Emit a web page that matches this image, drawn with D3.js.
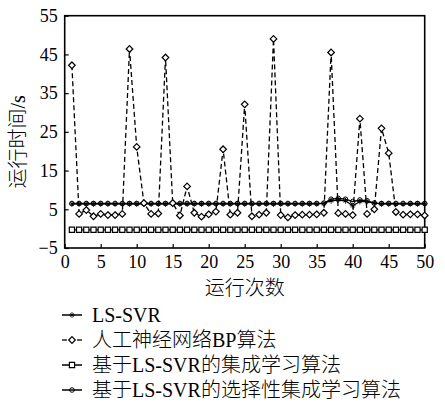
<!DOCTYPE html>
<html>
<head>
<meta charset="utf-8">
<script src="https://cdn.jsdelivr.net/npm/d3@7/dist/d3.min.js"></script>
<style>
  html, body { margin: 0; padding: 0; background: #fff; }
  svg text { font-family: "Liberation Serif", "Noto Sans CJK SC", serif; fill: #000; }
  svg text.cjk { font-weight: 300; }
</style>
</head>
<body>
<div id="chart"></div>
<script>
// Running time of four methods over 50 runs

const runs = d3.range(1, 51);

const lsSvr = [6.4, 6.4, 6.4, 6.4, 6.4, 6.4, 6.4, 6.4, 6.4, 6.4,
               6.4, 6.4, 6.4, 6.4, 6.4, 6.4, 6.4, 6.4, 6.4, 6.4,
               6.4, 6.4, 6.4, 6.4, 6.4, 6.4, 6.4, 6.4, 6.4, 6.4,
               6.4, 6.4, 6.4, 6.4, 6.4, 6.5, 7.2, 7.4, 7.2, 5.9,
               7.0, 7.0, 6.6, 6.4, 6.4, 6.4, 6.4, 6.4, 6.4, 6.4];

const bpNet = [42.2, 3.8, 4.8, 3.2, 3.8, 3.5, 3.5, 3.8, 46.4, 21.1,
               6.6, 3.8, 3.9, 44.2, 6.6, 3.4, 10.9, 4.1, 3.1, 3.7,
               4.4, 20.5, 3.6, 4.1, 32.1, 3.2, 3.6, 4.1, 49.0, 3.5,
               2.9, 3.5, 3.6, 3.6, 3.7, 4.1, 45.5, 4.0, 3.8, 3.5,
               28.4, 3.8, 5.0, 25.9, 19.5, 4.3, 3.6, 3.7, 3.7, 3.4];

const ensemble = [-0.3, -0.3, -0.3, -0.3, -0.3, -0.3, -0.3, -0.3, -0.3, -0.3,
                  -0.3, -0.3, -0.3, -0.3, -0.3, -0.3, -0.3, -0.3, -0.3, -0.3,
                  -0.3, -0.3, -0.3, -0.3, -0.3, -0.3, -0.3, -0.3, -0.3, -0.3,
                  -0.3, -0.3, -0.3, -0.3, -0.3, -0.3, -0.3, -0.3, -0.3, -0.3,
                  -0.3, -0.3, -0.3, -0.3, -0.3, -0.3, -0.3, -0.3, -0.3, -0.3];

const selective = [6.5, 6.5, 6.5, 6.5, 6.5, 6.5, 6.5, 6.5, 6.5, 6.5,
                   6.5, 6.5, 6.5, 6.5, 6.5, 6.5, 6.5, 6.5, 6.5, 6.5,
                   6.5, 6.5, 6.5, 6.5, 6.5, 6.5, 6.5, 6.5, 6.5, 6.5,
                   6.5, 6.5, 6.5, 6.5, 6.5, 6.6, 7.6, 7.8, 7.6, 7.0,
                   7.4, 7.2, 6.6, 6.5, 6.5, 6.5, 6.5, 6.5, 6.5, 6.5];

const xTicks = [0, 5, 10, 15, 20, 25, 30, 35, 40, 45, 50];
const yTicks = [-5, 5, 15, 25, 35, 45, 55];

const legendLabels = ["LS-SVR", "人工神经网络BP算法", "基于LS-SVR的集成学习算法", "基于LS-SVR的选择性集成学习算法"];
const xTitle = "运行次数";
const yTitle = "运行时间/s";

const W = 445, H = 403;
const plot = { left: 64.7, right: 424.7, top: 15.7, bottom: 248 };

const svg = d3.select("#chart").append("svg")
  .attr("width", W)
  .attr("height", H);

svg.append("rect").attr("width", W).attr("height", H).attr("fill", "#fff");

const x = d3.scaleLinear().domain([0, 50]).range([plot.left, plot.right]);
const y = d3.scaleLinear().domain([-5, 55]).range([plot.bottom, plot.top]);

// axes: ticks point inward, labels outside
const xAxis = svg.append("g")
  .attr("transform", `translate(0,${plot.bottom})`)
  .call(d3.axisBottom(x).tickValues(xTicks).tickSize(-4).tickPadding(9).tickFormat(d3.format("d")));
const yAxis = svg.append("g")
  .attr("transform", `translate(${plot.left},0)`)
  .call(d3.axisLeft(y).tickValues(yTicks).tickSize(-4).tickPadding(7).tickFormat(d => d < 0 ? "\u2212" + Math.abs(d) : d));

[xAxis, yAxis].forEach(g => {
  g.select(".domain").remove();
  g.selectAll(".tick line").attr("stroke", "#000").attr("stroke-width", 1.2);
  g.selectAll(".tick text").style("font-size", "18px").attr("fill", "#000");
});
xAxis.selectAll(".tick text").attr("dy", "0.6em");

// frame
svg.append("rect")
  .attr("x", plot.left).attr("y", plot.top)
  .attr("width", plot.right - plot.left).attr("height", plot.bottom - plot.top)
  .attr("fill", "none").attr("stroke", "#000").attr("stroke-width", 1.6);

const line = d3.line().x((d, i) => x(runs[i])).y(d => y(d));

function star(s) {
  const d = s * 0.6;
  return `M0,${-s}L0,${s}M${-s},0L${s},0M${-d},${-d}L${d},${d}M${-d},${d}L${d},${-d}`;
}
const diamond = s => `M0,${-s}L${s},0L0,${s}L${-s},0Z`;
const square = s => `M${-s},${-s}H${s}V${s}H${-s}Z`;

const series = [
  { values: selective, dash: null, marker: "circle" },
  { values: lsSvr, dash: null, marker: "star" },
  { values: ensemble, dash: null, marker: "square" },
  { values: bpNet, dash: "5,3", marker: "diamond" }
];

function drawMarker(g, type) {
  if (type === "circle") {
    g.append("circle").attr("r", 2.3).attr("fill", "none").attr("stroke", "#000").attr("stroke-width", 1);
  } else if (type === "star") {
    g.append("path").attr("d", star(3)).attr("fill", "none").attr("stroke", "#000").attr("stroke-width", 0.8);
  } else if (type === "square") {
    g.append("path").attr("d", square(2.6)).attr("fill", "#fff").attr("stroke", "#000").attr("stroke-width", 1.2);
  } else {
    g.append("path").attr("d", diamond(3.3)).attr("fill", "#fff").attr("stroke", "#000").attr("stroke-width", 1.2);
  }
}

series.forEach(s => {
  svg.append("path")
    .datum(s.values)
    .attr("d", line)
    .attr("fill", "none")
    .attr("stroke", "#000")
    .attr("stroke-width", 1.3)
    .attr("stroke-dasharray", s.dash);

  svg.selectAll(null)
    .data(s.values)
    .join("g")
    .attr("transform", (d, i) => `translate(${x(runs[i])},${y(d)})`)
    .each(function() { drawMarker(d3.select(this), s.marker); });
});

// axis titles
svg.append("text")
  .attr("class", "cjk")
  .attr("x", (plot.left + plot.right) / 2)
  .attr("y", 295)
  .attr("text-anchor", "middle")
  .style("font-size", "20px")
  .text(xTitle);

svg.append("text")
  .attr("class", "cjk")
  .attr("transform", `translate(25,${(plot.top + plot.bottom) / 2 + 10}) rotate(-90)`)
  .attr("text-anchor", "middle")
  .style("font-size", "20px")
  .text(yTitle);

// legend
const legendMarkers = ["star", "diamond", "square", "circle"];
const legendRows = [315, 340, 365, 390];
legendLabels.forEach((label, i) => {
  const g = svg.append("g").attr("transform", `translate(0,${legendRows[i]})`);
  if (i === 1) {
    g.append("line").attr("x1", 62).attr("x2", 67).attr("stroke", "#000").attr("stroke-width", 1.3);
    g.append("line").attr("x1", 77).attr("x2", 82).attr("stroke", "#000").attr("stroke-width", 1.3);
  } else {
    g.append("line").attr("x1", 62).attr("x2", 82).attr("stroke", "#000").attr("stroke-width", 1.5);
  }
  drawMarker(g.append("g").attr("transform", "translate(72,0)"), legendMarkers[i]);
  g.append("text")
    .attr("class", "cjk")
    .attr("x", 92)
    .attr("dy", "0.35em")
    .style("font-size", "20px")
    .text(label);
});
</script>
</body>
</html>
